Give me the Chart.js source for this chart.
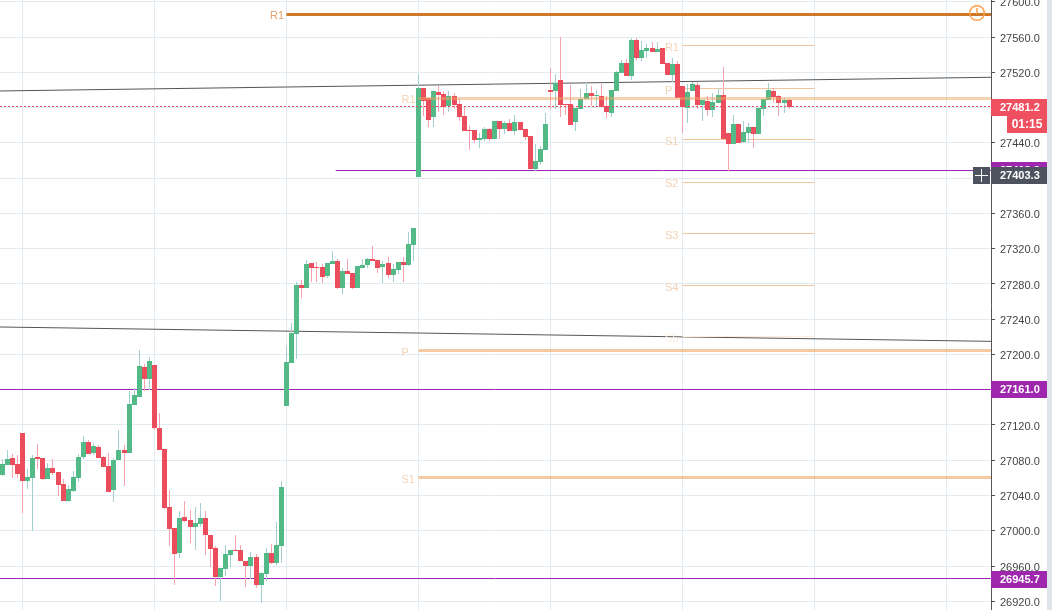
<!DOCTYPE html>
<html>
<head>
<meta charset="utf-8">
<title>Chart</title>
<script src="https://cdn.jsdelivr.net/npm/chart.js@4/dist/chart.umd.js"></script>
<style>
  html, body { margin: 0; padding: 0; background: #fff; }
  canvas { display: block; }
</style>
</head>
<body>
<canvas id="myChart" width="1052" height="610"></canvas>
<script>
// candles, one entry per bar, left to right
const opens = [
  27063.3,27074.6,27082.6,27075.8,27110.9,27056.5,27059.9,27083.7,27082.6,27058.7,
  27071.2,27066.7,27053.1,27033.8,27045.1,27059.9,27083.7,27100.7,27088.2,27095.1,
  27083.7,27073.5,27046.3,27080.3,27091.6,27088.2,27142.7,27151.8,27185.8,27172.2,
  27188.1,27116.6,27092.8,27027.0,27003.2,26974.8,27015.6,27012.2,27004.3,27007.7,
  27014.5,26995.2,26980.5,26947.6,26956.6,26972.5,26978.2,26978.2,26965.7,26960.0,
  26970.2,26938.5,26951.0,26974.8,26963.4,26982.7,27141.6,27190.3,27223.2,27278.8,
  27275.4,27303.8,27299.2,27299.2,27289.0,27302.7,27306.1,27275.4,27294.7,27292.4,
  27275.4,27298.1,27301.5,27308.3,27307.2,27299.2,27303.8,27290.2,27295.8,27304.9,
  27301.5,27324.2,27401.4,27502.3,27491.0,27469.4,27497.8,27495.5,27481.9,27493.3,
  27484.2,27470.6,27454.7,27454.7,27443.3,27444.5,27455.8,27444.5,27464.9,27455.8,
  27462.6,27453.6,27463.8,27455.8,27447.9,27410.4,27418.4,27432.0,27500.1,27498.9,
  27511.4,27484.2,27484.2,27463.8,27478.5,27489.9,27496.7,27493.3,27493.3,27481.9,
  27474.0,27498.9,27519.4,27530.7,27516.0,27556.8,27536.4,27544.3,27547.7,27543.2,
  27547.7,27530.7,27517.1,27529.6,27504.6,27479.7,27498.9,27505.8,27483.1,27487.6,
  27477.4,27485.3,27494.4,27451.3,27438.8,27461.5,27441.1,27451.3,27458.1,27450.2,
  27478.5,27488.7,27498.9,27493.3,27485.3,27488.7
];
const highs = [
  27081.4,27091.6,27087.1,27086.0,27110.9,27070.1,27085.6,27098.5,27082.6,27076.9,
  27081.4,27066.7,27058.7,27051.9,27067.8,27087.1,27107.5,27103.0,27099.6,27097.3,
  27084.8,27088.2,27082.6,27114.3,27097.3,27158.6,27162.0,27205.1,27189.2,27197.2,
  27188.1,27133.6,27092.8,27046.3,27003.2,27022.4,27033.8,27023.6,27027.0,27031.5,
  27022.4,26995.2,26982.7,26957.8,26983.9,26978.2,26995.2,26983.9,26965.7,26975.9,
  26973.7,26953.2,26980.5,26985.0,27010.0,27056.5,27209.6,27235.7,27282.2,27284.5,
  27307.2,27303.8,27304.9,27302.7,27303.8,27317.4,27308.3,27298.1,27308.3,27292.4,
  27300.4,27308.3,27309.5,27323.1,27307.2,27306.1,27310.6,27302.7,27304.9,27310.6,
  27339.0,27343.5,27518.2,27502.3,27491.0,27498.9,27504.6,27498.9,27498.9,27496.7,
  27489.9,27480.8,27459.2,27454.7,27451.3,27458.1,27457.0,27464.9,27464.9,27464.9,
  27467.2,27471.7,27463.8,27455.8,27447.9,27438.8,27436.5,27474.0,27525.0,27518.2,
  27560.2,27484.2,27505.8,27479.7,27501.2,27509.2,27504.6,27500.1,27506.9,27493.3,
  27500.1,27521.6,27534.1,27535.3,27559.1,27559.1,27555.7,27552.3,27554.5,27554.5,
  27547.7,27530.7,27536.4,27533.0,27504.6,27506.9,27509.2,27509.2,27488.7,27493.3,
  27496.7,27502.3,27526.2,27451.3,27471.7,27461.5,27464.9,27462.6,27458.1,27479.7,
  27489.9,27508.0,27502.3,27494.4,27492.1,27489.9
];
const lows = [
  27062.1,27074.6,27059.9,27059.9,27020.2,27047.4,26999.8,27070.1,27057.6,27058.7,
  27063.3,27039.5,27033.8,27032.7,27044.0,27055.3,27081.4,27087.1,27086.0,27082.6,
  27072.4,27044.0,27032.7,27080.3,27050.8,27088.2,27142.7,27151.8,27158.6,27159.7,
  27114.3,27091.6,27024.7,26982.7,26938.5,26969.1,27010.0,26986.1,26978.2,27004.3,
  26972.5,26958.9,26937.4,26920.3,26948.7,26958.9,26977.1,26965.7,26936.2,26945.3,
  26935.1,26918.1,26943.0,26962.3,26961.2,26963.4,27141.6,27190.3,27194.9,27264.1,
  27275.4,27282.2,27282.2,27281.1,27286.8,27302.7,27274.3,27268.6,27291.3,27274.3,
  27275.4,27298.1,27298.1,27306.1,27292.4,27281.1,27286.8,27282.2,27291.3,27282.2,
  27300.4,27306.1,27401.4,27470.6,27458.1,27458.1,27475.1,27471.7,27475.1,27478.5,
  27464.9,27453.6,27432.0,27439.9,27434.3,27442.2,27442.2,27444.5,27444.5,27450.1,
  27453.6,27449.0,27454.7,27443.3,27410.4,27408.2,27415.0,27432.0,27478.5,27478.5,
  27469.5,27471.7,27460.4,27453.6,27478.5,27489.9,27481.9,27481.9,27480.8,27468.3,
  27469.5,27498.9,27519.4,27516.0,27511.4,27534.1,27533.0,27536.4,27543.2,27543.2,
  27529.6,27517.1,27509.2,27491.0,27451.3,27462.6,27498.9,27478.5,27464.9,27470.6,
  27469.5,27485.3,27444.5,27408.2,27438.8,27439.9,27439.9,27439.9,27434.3,27450.2,
  27470.6,27488.7,27485.3,27470.6,27474.0,27478.5
];
const closes = [
  27075.8,27081.4,27074.6,27064.4,27056.5,27061.0,27082.6,27081.4,27058.7,27071.2,
  27065.6,27051.9,27033.8,27047.4,27061.0,27083.7,27100.7,27087.1,27096.2,27082.6,
  27072.4,27044.0,27080.3,27091.6,27088.2,27143.8,27154.1,27187.0,27172.2,27192.6,
  27116.6,27091.6,27025.8,27002.0,26973.7,27014.5,27011.1,27004.3,27008.8,27014.5,
  26995.2,26979.3,26947.6,26957.8,26973.7,26978.2,26977.1,26965.7,26960.0,26970.2,
  26938.5,26952.1,26974.8,26963.4,26983.9,27049.7,27191.5,27224.4,27278.8,27275.4,
  27302.7,27298.1,27298.1,27287.9,27303.8,27306.1,27275.4,27294.7,27291.3,27275.4,
  27300.4,27301.5,27308.3,27306.1,27298.1,27302.7,27290.2,27297.0,27304.9,27301.5,
  27325.3,27343.5,27502.3,27487.6,27466.0,27498.9,27494.4,27480.8,27493.3,27483.0,
  27469.4,27453.6,27453.6,27443.3,27445.6,27455.8,27444.5,27464.9,27455.8,27462.6,
  27453.6,27463.8,27454.7,27446.7,27410.4,27419.5,27433.1,27461.5,27497.8,27508.0,
  27483.1,27483.1,27460.4,27479.7,27489.9,27496.7,27493.3,27494.4,27480.8,27475.1,
  27500.1,27520.5,27530.7,27516.0,27556.8,27536.4,27545.5,27547.7,27543.2,27546.6,
  27529.6,27517.1,27529.6,27491.0,27480.8,27497.8,27506.9,27483.1,27488.7,27477.4,
  27486.5,27494.4,27444.5,27438.8,27461.5,27439.9,27452.4,27458.1,27450.2,27479.7,
  27489.9,27500.1,27492.1,27485.3,27488.7,27481.2
];

// vertical gridlines fall on these bars
const gridBars = [4, 30, 56, 82, 108, 134, 160, 186];
const xMin = -0.43;
const xMax = 194.76;
const yMax = 27602.2;
const yMin = 26910.1;

const mainPivotLabels = ['R1', 'P', 'S1'];
const mainPivotPrices = [27490.5, 27204.5, 27060.4];
const smallPivotLabels = ['R1', 'P', 'S1', 'S2', 'S3', 'S4', 'S5'];
const smallPivotPrices = [27550.6, 27501.8, 27443.9, 27395.2, 27337.3, 27278.3, 27220.4];
const topPivotPrice = 27585.8;
const lastPrice = 27481.2;
const supportFull = [27161.0, 26945.7];
const supportShort = 27408.8;
const crossPrice = 27403.3;
const countdown = '01:15';
const trendUpper = [27499.0, 27514.5];
const trendLower = [27231.2, 27214.9];

const GREEN = '#53b987';
const RED = '#eb4d5c';
const PURPLE = '#9c27b0';
const DARK = '#4c525e';
const FONT = '"Liberation Sans", Arial, sans-serif';

const bars = opens.map((o, i) => ({ i, up: closes[i] >= o }));
const body = up => bars.filter(b => b.up === up).map(b => ({ x: b.i, y: [opens[b.i], closes[b.i]] }));
const wick = up => bars.filter(b => b.up === up).map(b => ({ x: b.i, y: [lows[b.i], highs[b.i]] }));

const barSet = (data, color, thickness, order) => ({
  type: 'bar', data, backgroundColor: color, barThickness: thickness, maxBarThickness: thickness,
  barPercentage: 1, categoryPercentage: 1,
  grouped: false, borderWidth: 0, inflateAmount: 0, order, snap: true
});
const level = (price, from, color, width, order, extra) => Object.assign({
  type: 'line', data: [{ x: from, y: price }, { x: xMax, y: price }],
  borderColor: color, borderWidth: width, pointRadius: 0, order, flat: true
}, extra);
const levelTo = (price, from, to, color, width, order) => Object.assign(
  level(price, from, color, width, order), { data: [{ x: from, y: price }, { x: to, y: price }] });
const trend = values => ({
  type: 'line', data: [{ x: xMin, y: values[0] }, { x: xMax, y: values[1] }],
  borderColor: '#555', borderWidth: 1, pointRadius: 0, order: 12
});

const smallColors = ['#efc49e', '#efc49e', '#efc49e', '#efc49e', '#efc49e', '#efc49e', '#fdeedd'];

const datasets = [
  barSet(wick(true), '#a3cfcf', 1, 6),
  barSet(wick(false), '#f7a3ae', 1, 6),
  barSet(body(true), GREEN, 5, 5),
  barSet(body(false), RED, 5, 5),
  trend(trendUpper),
  trend(trendLower),
  level(topPivotPrice, 56, '#cf7729', 3, 10),
  level(mainPivotPrices[0], 82, 'rgba(238,165,100,0.5)', 3, 1),
  level(mainPivotPrices[1], 82, 'rgba(238,165,100,0.6)', 3, 10),
  level(mainPivotPrices[2], 82, 'rgba(238,165,100,0.6)', 3, 10),
  level(supportShort, 65.7, PURPLE, 1, 10),
  level(supportFull[0], xMin, PURPLE, 1, 10),
  level(supportFull[1], xMin, PURPLE, 1, 10),
  level(lastPrice, xMin, RED, 1, 0, { borderDash: [2, 2] })
];
smallPivotPrices.forEach((p, n) => datasets.push(levelTo(p, 134, 160, smallColors[n], 1, 10)));

// keep bars and flat levels on whole pixels, as a trading chart does
const pixelSnap = {
  id: 'pixelSnap',
  afterDatasetsUpdate(chart) {
    chart.data.datasets.forEach((ds, n) => {
      const els = chart.getDatasetMeta(n).data;
      if (ds.snap) {
        els.forEach(el => {
          el.width = ds.barThickness;
          el.x = Math.floor(el.x) + 0.5;
          el.y = Math.round(el.y);
          el.base = Math.round(el.base);
          if (el.y === el.base) el.base += 1;
        });
      } else if (ds.flat) {
        els.forEach(el => { el.y = Math.round(el.y - 0.3) + 0.5; });
      }
    });
  }
};

const overlay = {
  id: 'overlay',
  afterDraw(chart) {
    const { ctx, scales: { x, y } } = chart;
    const axisX = 992, right = 1047;
    ctx.save();

    // strip right of the price scale
    ctx.fillStyle = '#e0e3eb';
    ctx.fillRect(right, 0, 1052 - right, 610);

    // price labels, a little under the tick like the original
    ctx.font = '11px ' + FONT;
    ctx.textAlign = 'left';
    ctx.textBaseline = 'middle';
    ctx.fillStyle = '#444';
    y.ticks.forEach(t => {
      ctx.fillText(t.value.toFixed(1), 1000, y.getPixelForValue(t.value) + 1.5);
    });

    // pivot names
    ctx.fillStyle = '#e5a26e';
    ctx.fillText('R1', x.getPixelForValue(56) - 16.5, y.getPixelForValue(topPivotPrice) + 2);
    ctx.fillStyle = '#f3d1b3';
    mainPivotLabels.forEach((t, n) => {
      ctx.fillText(t, x.getPixelForValue(82) - 17, y.getPixelForValue(mainPivotPrices[n]) + 2);
    });
    smallPivotLabels.forEach((t, n) => {
      ctx.fillStyle = n === 6 ? '#fdeedd' : '#f3d1b3';
      ctx.fillText(t, x.getPixelForValue(134) - 17.5, y.getPixelForValue(smallPivotPrices[n]) + 2);
    });

    // alert mark on the top level
    ctx.strokeStyle = '#ff9f4a';
    ctx.lineWidth = 1.5;
    ctx.beginPath();
    ctx.arc(977, 13, 7.3, 0, Math.PI * 2);
    ctx.stroke();
    ctx.beginPath();
    ctx.moveTo(977, 8);
    ctx.lineTo(977, 14);
    ctx.stroke();

    // price pills
    const pill = (price, color) => {
      const py = Math.round(y.getPixelForValue(price));
      ctx.fillStyle = color;
      ctx.fillRect(axisX - 1, py - 8, right - axisX + 1, 17);
      ctx.fillStyle = '#fff';
      ctx.font = 'bold 11px ' + FONT;
      ctx.textAlign = 'left';
      ctx.textBaseline = 'middle';
      ctx.fillText(price.toFixed(1), 1000, py + 1);
      return py;
    };
    const lastY = pill(lastPrice, '#ef5060');
    pill(supportFull[0], '#9f27ad');
    pill(supportFull[1], '#9f27ad');
    pill(supportShort, '#9f27ad');
    pill(crossPrice, DARK);

    // countdown under the last price
    ctx.fillStyle = '#ef5060';
    ctx.fillRect(1007, lastY + 9, right - 1007, 17);
    ctx.fillStyle = '#fff';
    ctx.font = 'bold 12px ' + FONT;
    ctx.textAlign = 'center';
    ctx.fillText(countdown, 1027, lastY + 18);

    // crosshair button
    const cy = Math.round(y.getPixelForValue(crossPrice));
    ctx.fillStyle = DARK;
    ctx.fillRect(973, cy - 8, 17, 17);
    ctx.strokeStyle = '#fff';
    ctx.lineWidth = 1;
    ctx.beginPath();
    ctx.moveTo(975, cy + 0.5);
    ctx.lineTo(988, cy + 0.5);
    ctx.moveTo(981.5, cy - 6);
    ctx.lineTo(981.5, cy + 7);
    ctx.stroke();
    ctx.restore();
  }
};

new Chart(document.getElementById('myChart').getContext('2d'), {
  type: 'bar',
  data: { datasets },
  plugins: [pixelSnap, overlay],
  options: {
    responsive: false,
    animation: false,
    events: [],
    layout: { padding: 0 },
    plugins: { legend: { display: false }, tooltip: { enabled: false }, title: { display: false } },
    scales: {
      x: {
        type: 'linear', min: xMin, max: xMax, offset: false,
        grid: { color: '#e2ebf1', offset: false, drawTicks: false },
        border: { display: false },
        ticks: { display: false },
        afterBuildTicks: s => { s.ticks = gridBars.map(value => ({ value })); },
        afterFit: s => { s.height = 0; s.paddingLeft = s.paddingRight = 0; }
      },
      y: {
        type: 'linear', position: 'right', min: yMin, max: yMax, offset: false,
        grid: { color: '#e2ebf1', tickColor: '#555', tickLength: 4 },
        border: { color: '#555', width: 1 },
        ticks: {
          stepSize: 40, includeBounds: false, autoSkip: false, display: false
        },
        afterFit: s => { s.width = 61; s.paddingTop = s.paddingBottom = 0; }
      }
    }
  }
});
</script>
</body>
</html>
